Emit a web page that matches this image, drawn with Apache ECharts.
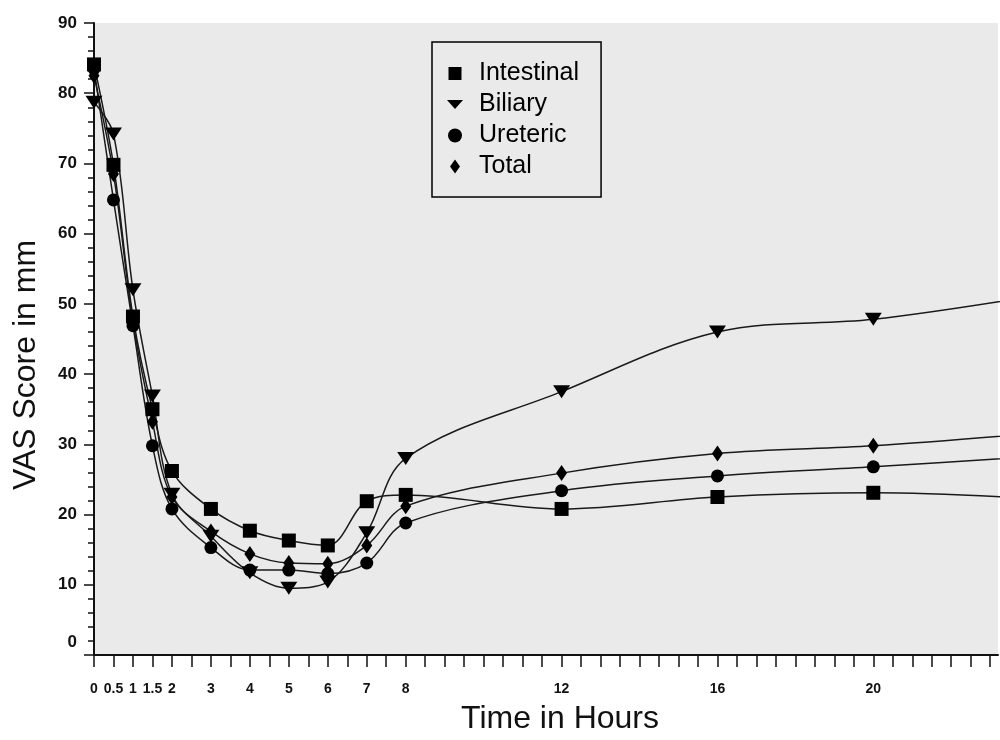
<!DOCTYPE html>
<html>
<head>
<meta charset="utf-8">
<script src="https://cdn.jsdelivr.net/npm/echarts@6/dist/echarts.min.js"></script>
<style>html,body{margin:0;padding:0;background:#fff}#c{width:1000px;height:740px}</style>
</head>
<body>
<div id="c"></div>
<script>
const hours = [0, 0.5, 1, 1.5, 2, 3, 4, 5, 6, 7, 8, 12, 16, 20, 24];
const intestinal = [84.1, 69.8, 48.2, 35.0, 26.2, 20.8, 17.7, 16.3, 15.6, 21.9, 22.8, 20.8, 22.5, 23.1, 22.3];
const biliary    = [78.7, 74.2, 52.0, 36.9, 22.9, 16.9, 11.7, 9.5, 10.4, 17.4, 28.0, 37.5, 46.0, 47.8, 51.0];
const ureteric   = [83.5, 64.8, 46.9, 29.8, 20.8, 15.3, 12.1, 12.1, 11.6, 13.1, 18.8, 23.4, 25.5, 26.8, 28.2];
const total      = [82.5, 68.5, 47.5, 33.2, 22.5, 17.6, 14.4, 13.1, 13.0, 15.6, 21.2, 25.9, 28.7, 29.8, 31.5];
const xTickLabels = [0, 0.5, 1, 1.5, 2, 3, 4, 5, 6, 7, 8, 12, 16, 20];
const seriesNames = ['Intestinal', 'Biliary', 'Ureteric', 'Total'];

const FONT = '"Liberation Sans", Arial, Helvetica, sans-serif';
const pair = arr => hours.map((h, i) => [h, arr[i]]);

const chart = echarts.init(document.getElementById('c'), null, {renderer: 'canvas'});

function mkSeries(name, data, symbol, size, rotate) {
  return {
    name, type: 'line', data: pair(data), smooth: 0.35, clip: true,
    symbol, symbolSize: size, symbolRotate: rotate || 0,
    showAllSymbol: true,
    lineStyle: {color: '#1a1a1a', width: 1.5},
    itemStyle: {color: '#000'},
    emphasis: {disabled: true},
    z: 3
  };
}

chart.setOption({
  animation: false,
  backgroundColor: '#fff',
  grid: {left: 94, right: 2, top: 23, bottom: 84.5, show: true, backgroundColor: '#eaeaea', borderWidth: 0},
  xAxis: {
    type: 'value', min: 0, max: 23.2, interval: 0.5,
    name: 'Time in Hours', nameLocation: 'middle', nameGap: 48,
    nameTextStyle: {fontFamily: FONT, fontSize: 32, color: '#111', padding: [0, 0, 0, 28]},
    axisLine: {show: true, lineStyle: {color: '#111', width: 2}},
    axisTick: {show: true, length: 12, lineStyle: {color: '#111', width: 1.5}},
    splitLine: {show: false},
    axisLabel: {
      margin: 27, fontFamily: FONT, fontSize: 14, fontWeight: 'bold', color: '#111',
      showMinLabel: true, showMaxLabel: false,
      formatter: v => xTickLabels.indexOf(v) >= 0 ? String(v) : ''
    }
  },
  yAxis: {
    type: 'value', min: 0, max: 90, interval: 10,
    name: 'VAS Score in mm', nameLocation: 'middle', nameGap: 52,
    nameTextStyle: {fontFamily: FONT, fontSize: 32, color: '#111', padding: [0, 52, 0, 0]},
    axisLine: {show: true, lineStyle: {color: '#111', width: 2}},
    axisTick: {show: true, length: 10, lineStyle: {color: '#111', width: 1.5}},
    minorTick: {show: true, splitNumber: 5, length: 6, lineStyle: {color: '#111', width: 1.5}},
    splitLine: {show: false},
    axisLabel: {
      margin: 17, fontFamily: FONT, fontSize: 17, fontWeight: 'bold', color: '#111',
      formatter: v => v === 0 ? '{z|0}' : String(v),
      rich: {z: {fontFamily: FONT, fontSize: 17, fontWeight: 'bold', color: '#111', padding: [0, 0, 26, 0]}}
    }
  },
  legend: {
    orient: 'vertical', left: 432, top: 42,
    padding: [19, 22, 18, 15], itemGap: 6, itemWidth: 16, itemHeight: 14,
    backgroundColor: '#eaeaea', borderColor: '#000', borderWidth: 1.5,
    selectedMode: false,
    textStyle: {fontFamily: FONT, fontSize: 25, color: '#000', lineHeight: 24, padding: [0, 0, 0, 11]},
    data: [
      {name: 'Intestinal', icon: 'path://M0,0M16,14M1.5,0.5L14.5,0.5L14.5,13.5L1.5,13.5Z'},
      {name: 'Biliary', icon: 'path://M0,0M16,14M0,2.5L16,2.5L8,11.5Z'},
      {name: 'Ureteric', icon: 'circle'},
      {name: 'Total', icon: 'path://M0,0M16,14M8,0L13,7L8,14L3,7Z'}
    ]
  },
  series: [
    mkSeries(seriesNames[0], intestinal, 'rect', 14),
    mkSeries(seriesNames[1], biliary, 'triangle', [17, 13], 180),
    mkSeries(seriesNames[2], ureteric, 'circle', 13),
    mkSeries(seriesNames[3], total, 'diamond', [11, 16])
  ]
});
</script>
</body>
</html>
